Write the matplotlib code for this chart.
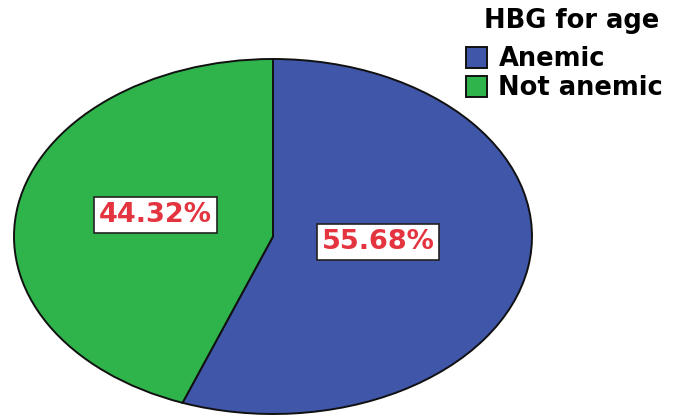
import matplotlib.pyplot as plt

categories = ['Anemic', 'Not anemic']
shares = [55.68, 44.32]
colors = ['#3f56a9', '#2fb44b']

plt.rcParams['font.family'] = ['DejaVu Sans']

fig = plt.figure(figsize=(6.83, 4.19), dpi=100)
# stretched pie: the axes box sets the ellipse size
ax = fig.add_axes([14 / 683, 5 / 419, 518 / 683, 355 / 419])

wedges, texts, autotexts = ax.pie(
    shares, colors=colors, startangle=90, counterclock=False,
    autopct=lambda p: '%.2f%%' % p, pctdistance=0.45,
    wedgeprops=dict(edgecolor='#111111', linewidth=1.4),
    textprops=dict(fontsize=19.5, color='#e3343f', fontweight='bold'))
ax.set_aspect('auto')
ax.set_xlim(-1.0, 1.0)
ax.set_ylim(-1.0, 1.0)

# label positions inside the wedges
autotexts[0].set_position((0.405, -0.03))
autotexts[1].set_position((-0.455, 0.12))
for t in autotexts:
    t.set_bbox(dict(facecolor='white', edgecolor='#222222', linewidth=1.2, pad=3.5))

fig.text(572 / 683, 1 - 21 / 419, 'HBG for age', ha='center', va='center',
         fontsize=18.5, fontweight='bold')
leg = fig.legend(wedges, categories, loc='upper left',
                 bbox_to_anchor=(456 / 683, 1 - 36 / 419), frameon=False,
                 prop=dict(size=18.5, weight='bold'), handlelength=0.8,
                 handleheight=0.85, handletextpad=0.45, labelspacing=0.12,
                 borderaxespad=0.0)

fig.savefig('out.png', dpi=100)
